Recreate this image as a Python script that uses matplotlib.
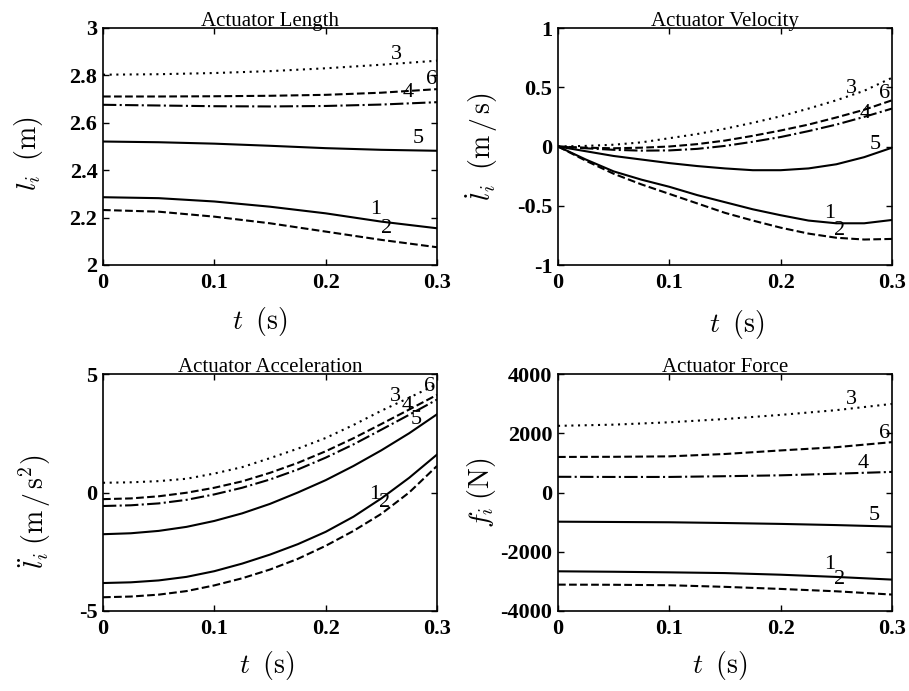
import numpy as np
import matplotlib
matplotlib.use('Agg')
import matplotlib.pyplot as plt

plt.rcParams['font.family'] = ['Liberation Serif', 'DejaVu Serif']
plt.rcParams['mathtext.fontset'] = 'cm'
plt.rcParams['axes.unicode_minus'] = False

# time grids (s)
t_coarse = [0.0, 0.05, 0.10, 0.15, 0.20, 0.25, 0.30]
t_fine = [0.0, 0.025, 0.05, 0.075, 0.10, 0.125, 0.15, 0.175, 0.20, 0.225, 0.25, 0.275, 0.30]

# actuator lengths (m), on t_coarse
length_1 = [2.286, 2.282, 2.268, 2.246, 2.218, 2.183, 2.155]
length_2 = [2.232, 2.225, 2.204, 2.176, 2.141, 2.106, 2.075]
length_3 = [2.803, 2.805, 2.810, 2.818, 2.830, 2.845, 2.862]
length_4 = [2.676, 2.673, 2.670, 2.669, 2.671, 2.677, 2.687]
length_5 = [2.521, 2.518, 2.512, 2.503, 2.493, 2.486, 2.482]
length_6 = [2.711, 2.711, 2.712, 2.714, 2.718, 2.727, 2.742]

# actuator velocities (m/s), on t_fine
vel_1 = [0, -0.11, -0.21, -0.28, -0.34, -0.41, -0.47, -0.53, -0.58, -0.625, -0.648, -0.648, -0.62]
vel_2 = [0, -0.12, -0.23, -0.32, -0.40, -0.48, -0.56, -0.625, -0.685, -0.735, -0.77, -0.785, -0.78]
vel_3 = [0, 0.005, 0.015, 0.035, 0.07, 0.105, 0.15, 0.20, 0.255, 0.32, 0.39, 0.47, 0.58]
vel_4 = [0, -0.015, -0.028, -0.035, -0.033, -0.02, 0.005, 0.04, 0.08, 0.13, 0.185, 0.25, 0.32]
vel_5 = [0, -0.04, -0.08, -0.11, -0.14, -0.165, -0.185, -0.20, -0.20, -0.185, -0.15, -0.09, -0.01]
vel_6 = [0, -0.01, -0.015, -0.01, 0.0, 0.02, 0.05, 0.09, 0.135, 0.185, 0.245, 0.31, 0.39]

# actuator accelerations (m/s^2), on t_fine
acc_1 = [-3.82, -3.79, -3.71, -3.56, -3.32, -3.00, -2.62, -2.18, -1.66, -1.02, -0.25, 0.62, 1.60]
acc_2 = [-4.42, -4.39, -4.31, -4.16, -3.92, -3.62, -3.25, -2.80, -2.25, -1.62, -0.90, 0.0, 1.12]
acc_3 = [0.41, 0.43, 0.48, 0.58, 0.80, 1.07, 1.45, 1.85, 2.30, 2.85, 3.45, 4.0, 4.57]
acc_4 = [-0.57, -0.54, -0.46, -0.31, -0.08, 0.20, 0.55, 0.97, 1.47, 2.03, 2.65, 3.28, 3.92]
acc_5 = [-1.76, -1.72, -1.62, -1.45, -1.20, -0.88, -0.48, 0.0, 0.52, 1.12, 1.78, 2.50, 3.30]
acc_6 = [-0.28, -0.25, -0.16, -0.01, 0.20, 0.47, 0.83, 1.25, 1.74, 2.29, 2.89, 3.50, 4.12]

# actuator forces (N), on t_coarse
force_1 = [-2660, -2675, -2695, -2720, -2775, -2850, -2940]
force_2 = [-3110, -3115, -3130, -3185, -3255, -3335, -3445]
force_3 = [2250, 2290, 2370, 2480, 2620, 2780, 2990]
force_4 = [530, 525, 525, 550, 580, 635, 695]
force_5 = [-985, -995, -1005, -1030, -1060, -1100, -1150]
force_6 = [1200, 1205, 1220, 1300, 1420, 1530, 1700]

# curve number tags: (t, value) for legs 1..6
len_tags = [(0.2445, 2.235), (0.255, 2.155), (0.264, 2.887), (0.2745, 2.728), (0.2835, 2.535), (0.2955, 2.782)]
vel_tags = [(0.244, -0.564), (0.253, -0.705), (0.264, 0.491), (0.2757, 0.28), (0.285, 0.013), (0.2937, 0.449)]
acc_tags = [(0.2443, -0.08), (0.2533, -0.43), (0.2623, 4.07), (0.2734, 3.65), (0.2816, 3.09), (0.2937, 4.49)]
force_tags = [(0.244, -2438), (0.253, -2942), (0.2634, 3154), (0.274, 973), (0.284, -760), (0.2934, 1980)]

styles = [dict(ls='-'), dict(ls='--'), dict(ls=(0, (1, 2.2))),
          dict(ls='-.'), dict(ls='-'), dict(ls='--')]


def draw_panel(ax, t, series, tags, title, ylabel, ylim, yticks, yticklabels,
               xlab_pos, ylab_pos):
    for k, y in enumerate(series):
        ax.plot(t, y, color='k', lw=1.5, **styles[k])
    for k, (tx, ty) in enumerate(tags):
        ax.text(tx, ty, str(k + 1), fontsize=16, ha='center', va='center')
    ax.set_xlim(0, 0.3)
    ax.set_ylim(*ylim)
    ax.set_xticks([0, 0.1, 0.2, 0.3])
    ax.set_xticklabels(['0', '0.1', '0.2', '0.3'])
    ax.set_yticks(yticks)
    ax.set_yticklabels(yticklabels)
    ax.tick_params(direction='in', length=4, width=1, top=True, right=True,
                   labelsize=16)
    ax.tick_params(axis='x', pad=6)
    ax.tick_params(axis='y', pad=4)
    for lab in ax.get_xticklabels() + ax.get_yticklabels():
        lab.set_fontweight('bold')
    for sp in ax.spines.values():
        sp.set_linewidth(1.2)
    ax.set_title(title, fontsize=15, pad=1.5)
    ax.set_xlabel(r'$t\;\;(\mathrm{s})$', fontsize=20)
    ax.set_ylabel(ylabel, fontsize=20)
    ax.xaxis.set_label_coords(*xlab_pos)
    ax.xaxis.label.set_va('center')
    ax.yaxis.set_label_coords(*ylab_pos)
    ax.yaxis.label.set_va('center')


fig = plt.figure(figsize=(9.09, 6.91), dpi=100)
w, h = 334 / 909, 237 / 691
ax_len = fig.add_axes([103 / 909, 1 - 265 / 691, w, h])
ax_vel = fig.add_axes([558 / 909, 1 - 265 / 691, w, h])
ax_acc = fig.add_axes([103 / 909, 1 - 611 / 691, w, h])
ax_frc = fig.add_axes([558 / 909, 1 - 611 / 691, w, h])

draw_panel(ax_len, t_coarse, [length_1, length_2, length_3, length_4, length_5, length_6],
           len_tags, 'Actuator Length', r'$l_i\;\;(\mathrm{m})$', (2, 3),
           [2, 2.2, 2.4, 2.6, 2.8, 3], ['2', '2.2', '2.4', '2.6', '2.8', '3'],
           (0.47, -0.24), (-0.222, 0.47))
draw_panel(ax_vel, t_fine, [vel_1, vel_2, vel_3, vel_4, vel_5, vel_6],
           vel_tags, 'Actuator Velocity', r'$\dot{l}_i\;\;(\mathrm{m\,/\,s})$', (-1, 1),
           [-1, -0.5, 0, 0.5, 1], ['-1', '-0.5', '0', '0.5', '1'],
           (0.536, -0.25), (-0.228, 0.5))
draw_panel(ax_acc, t_fine, [acc_1, acc_2, acc_3, acc_4, acc_5, acc_6],
           acc_tags, 'Actuator Acceleration', r'$\ddot{l}_i\;(\mathrm{m\,/\,s}^2)$', (-5, 5),
           [-5, 0, 5], ['-5', '0', '5'],
           (0.49, -0.232), (-0.204, 0.42))
draw_panel(ax_frc, t_coarse, [force_1, force_2, force_3, force_4, force_5, force_6],
           force_tags, 'Actuator Force', r'$f_i\;(\mathrm{N})$', (-4000, 4000),
           [-4000, -2000, 0, 2000, 4000], ['-4000', '-2000', '0', '2000', '4000'],
           (0.485, -0.232), (-0.228, 0.5))

fig.savefig('out.png', dpi=100)
